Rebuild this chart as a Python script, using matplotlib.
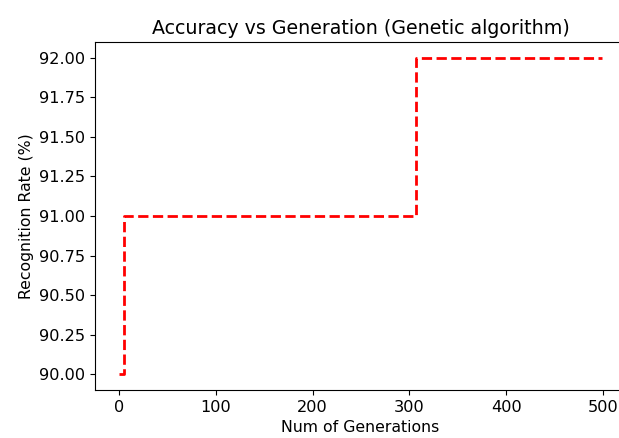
import matplotlib
matplotlib.use("Agg")
import matplotlib.pyplot as plt

# 세대별 인식률
generations = [0, 5, 307, 499]
accuracy = [90.0, 91.0, 92.0, 92.0]

plt.rcParams["font.size"] = 11.3
plt.rcParams["xtick.labelsize"] = 11.6
plt.rcParams["ytick.labelsize"] = 11.6

fig = plt.figure(figsize=(6.19, 4.38), dpi=100)
# 오른쪽 테두리는 원본처럼 그림 밖으로 잘리게 함
ax = fig.add_axes([95 / 619, 48 / 438, 531 / 619, 348 / 438])

ax.plot(generations, accuracy, "r--", linewidth=2, drawstyle="steps-post")

ax.set_title("Accuracy vs Generation (Genetic algorithm)", fontsize=13.7)
ax.set_xlabel("Num of Generations")
ax.set_ylabel("Recognition Rate (%)")
ax.set_ylim(89.9, 92.1)
ax.set_xticks([0, 100, 200, 300, 400, 500])
ax.set_yticks([90.0, 90.25, 90.5, 90.75, 91.0, 91.25, 91.5, 91.75, 92.0])
ax.yaxis.set_major_formatter(matplotlib.ticker.FormatStrFormatter("%.2f"))

fig.savefig("out.png", dpi=100)
